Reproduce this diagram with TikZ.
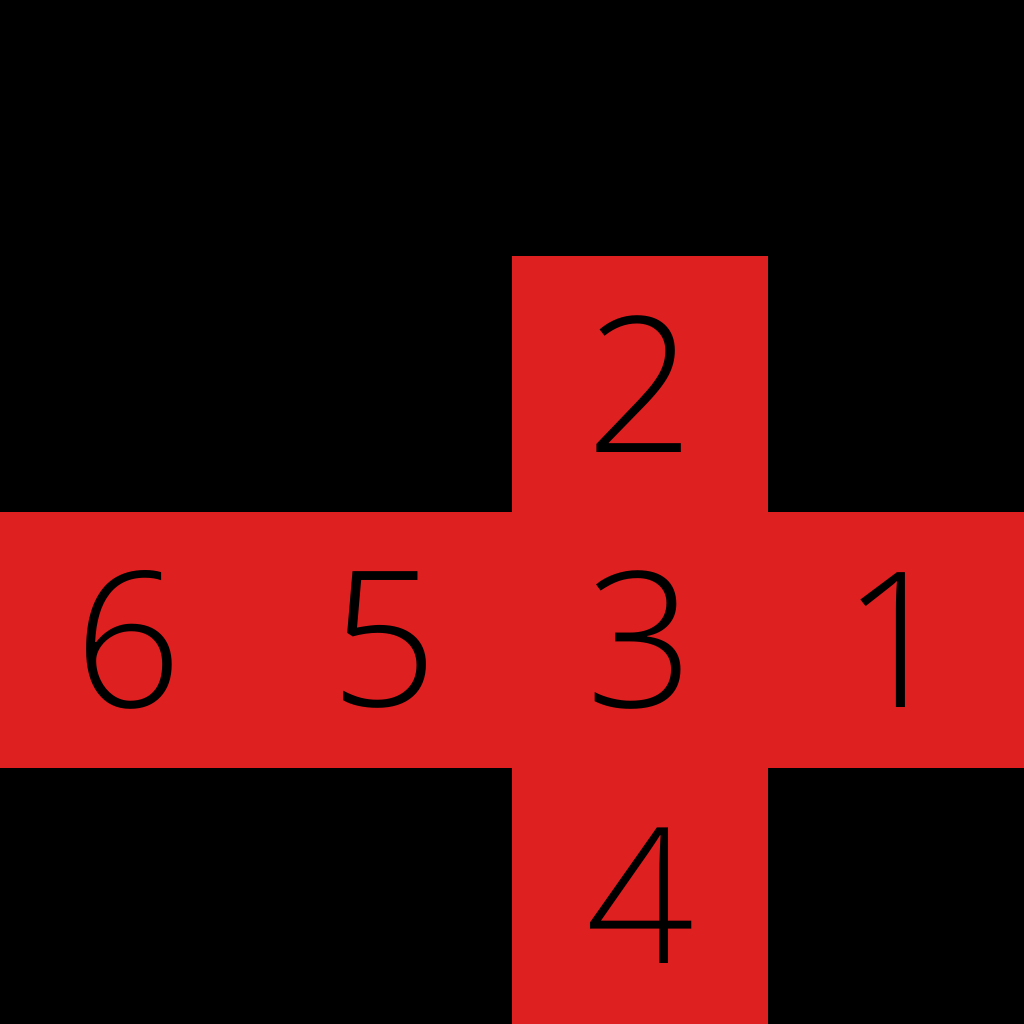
\documentclass[tikz,border=0pt]{standalone}
\usepackage{fontspec}
\setmainfont{Open Sans}[UprightFont=* Light]
\usetikzlibrary{positioning}
\definecolor{faceRed}{HTML}{df2020}
\definecolor{bgBlack}{HTML}{000000}

\begin{document}
\begin{tikzpicture}[face/.style={fill=faceRed, minimum size=2cm, inner sep=0pt, outer sep=0pt, font=\fontsize{42}{42}\selectfont, text=black}]
\fill[bgBlack] (0,0) rectangle (8,8);
\useasboundingbox (0,0) rectangle (8,8);
\node[face] (f3) at (5,3) {3};
\node[face, above=0pt of f3] (f2) {2};
\node[face, below=0pt of f3] (f4) {4};
\node[face, left=0pt of f3] (f5) {5};
\node[face, left=0pt of f5] (f6) {6};
\node[face, right=0pt of f3] (f1) {1};
\end{tikzpicture}
\end{document}
